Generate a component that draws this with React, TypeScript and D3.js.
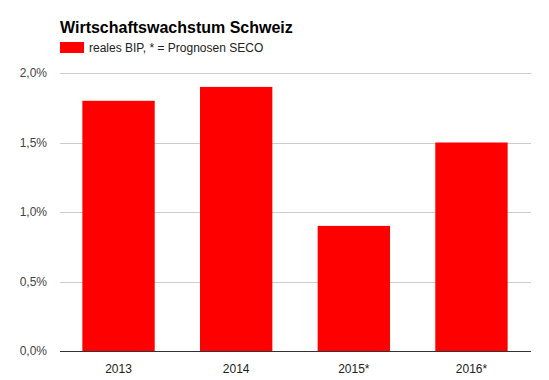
import React from "react";
import * as d3 from "d3";

const categories = ["2013", "2014", "2015*", "2016*"];
const values = [1.8, 1.9, 0.9, 1.5];
const yTicks = [0, 0.5, 1.0, 1.5, 2.0];

const W = 549;
const H = 380;
const M = { left: 60, right: 19, top: 73, bottom: 29 };

export default function App() {
  const x = d3
    .scaleBand<string>()
    .domain(categories)
    .range([M.left, W - M.right])
    .paddingInner(0.385)
    .paddingOuter(0.19);
  const y = d3.scaleLinear().domain([0, 2]).range([H - M.bottom, M.top]);
  const fmt = (v: number) => v.toFixed(1).replace(".", ",") + "%";
  const font = "Arial, 'Liberation Sans', sans-serif";
  return (
    <svg
      width={W}
      height={H}
      style={{ position: "absolute", left: 0, top: 0, background: "#fff" }}
      fontFamily={font}
    >
      <text x={60} y={33} fontSize={16} fontWeight="bold" fill="#000">
        Wirtschaftswachstum Schweiz
      </text>
      <rect x={60} y={42} width={24} height={11} fill="#ff0000" />
      <text x={89} y={52} fontSize={12} fill="#222">
        reales BIP, * = Prognosen SECO
      </text>
      {yTicks.map((t) => (
        <g key={t}>
          {t !== 0 && (
            <line
              x1={M.left}
              x2={W - M.right + 1}
              y1={Math.round(y(t)) + 0.5}
              y2={Math.round(y(t)) + 0.5}
              stroke="#cccccc"
            />
          )}
          <text
            x={47}
            y={y(t)}
            dy="0.35em"
            textAnchor="end"
            fontSize={12}
            fill="#444"
          >
            {fmt(t)}
          </text>
        </g>
      ))}
      {categories.map((c, i) => (
        <rect
          key={c}
          x={x(c)}
          y={y(values[i])}
          width={x.bandwidth()}
          height={y(0) - y(values[i])}
          fill="#ff0000"
        />
      ))}
      <line
        x1={M.left}
        x2={W - M.right + 1}
        y1={Math.round(y(0)) + 0.5}
        y2={Math.round(y(0)) + 0.5}
        stroke="#333"
      />
      {categories.map((c) => (
        <text
          key={c}
          x={(x(c) as number) + x.bandwidth() / 2}
          y={373}
          textAnchor="middle"
          fontSize={12}
          fill="#222"
        >
          {c}
        </text>
      ))}
    </svg>
  );
}
